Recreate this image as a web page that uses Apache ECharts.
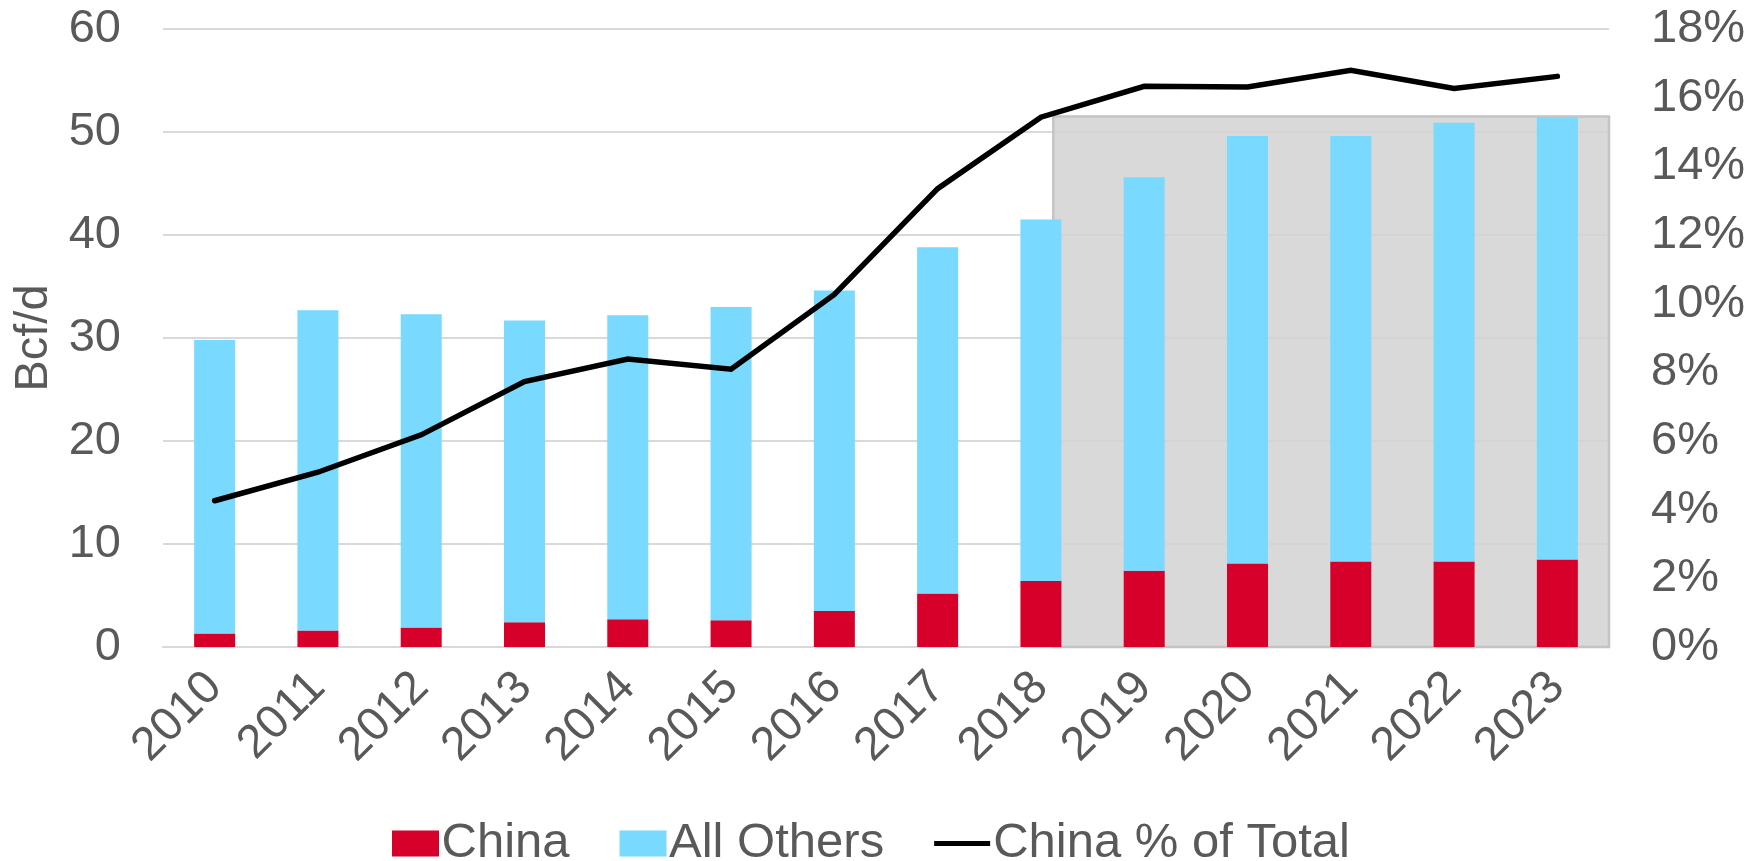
<!DOCTYPE html>
<html>
<head>
<meta charset="utf-8">
<script src="https://cdn.jsdelivr.net/npm/echarts@6/dist/echarts.min.js"></script>
<style>
  html, body { margin: 0; padding: 0; background: #ffffff; }
  #chart { width: 1764px; height: 861px; }
</style>
</head>
<body>
<div id="chart"></div>
<script>
// ---- data ----
const years = ['2010','2011','2012','2013','2014','2015','2016','2017','2018','2019','2020','2021','2022','2023'];
const china = [1.3, 1.6, 1.9, 2.4, 2.7, 2.6, 3.5, 5.2, 6.4, 7.4, 8.1, 8.3, 8.3, 8.5];
const allOthers = [28.5, 31.1, 30.4, 29.3, 29.5, 30.4, 31.1, 33.6, 35.1, 38.2, 41.5, 41.3, 42.6, 42.9];
const chinaShare = [4.26, 5.09, 6.18, 7.73, 8.39, 8.09, 10.27, 13.35, 15.43, 16.33, 16.31, 16.8, 16.27, 16.62];
const leftTicks = [0, 10, 20, 30, 40, 50, 60];
const rightTicks = [0, 2, 4, 6, 8, 10, 12, 14, 16, 18];
// shaded forecast block, in data units (category index space / Bcf/d)
const shadeFrom = 8.62, shadeTo = 14, shadeTop = 51.5;

const FONT = '"Liberation Sans", Arial, sans-serif';
const GREY = '#595959';
const RECT_ICON = 'path://M0,0 L47,0 L47,26 L0,26 Z';
const LINE_ICON = 'path://M0,0 L56,0 L56,5 L0,5 Z';

const chart = echarts.init(document.getElementById('chart'), null, { renderer: 'canvas' });
chart.setOption({
  animation: false,
  backgroundColor: '#ffffff',
  textStyle: { fontFamily: FONT },
  grid: { left: 163, right: 155, top: 29, bottom: 214, containLabel: false },
  legend: {
    data: [
      { name: 'China', icon: RECT_ICON, textStyle: { padding: [0, 0, 0, -7] } },
      { name: 'All Others', icon: RECT_ICON, textStyle: { padding: [0, 0, 0, -7] } },
      { name: 'China % of Total', icon: LINE_ICON, textStyle: { padding: [0, 0, 0, -2] } }
    ],
    left: 387,
    top: 814,
    itemWidth: 56,
    itemHeight: 26,
    itemGap: 50,
    textStyle: { fontSize: 49, color: GREY, fontFamily: FONT }
  },
  xAxis: [
    {
      type: 'category',
      data: years,
      axisLine: { show: true, lineStyle: { color: '#d9d9d9', width: 2 } },
      axisTick: { show: false },
      axisLabel: { rotate: 45, fontSize: 47, color: GREY, fontFamily: FONT, margin: 33, interval: 0 }
    },
    {
      type: 'value', min: 0, max: years.length, show: false
    }
  ],
  yAxis: [
    {
      type: 'value', min: leftTicks[0], max: leftTicks[leftTicks.length - 1], interval: 10,
      name: 'Bcf/d', nameLocation: 'middle', nameGap: 104,
      nameTextStyle: { fontSize: 47, color: GREY, fontFamily: FONT },
      axisLine: { show: false }, axisTick: { show: false },
      axisLabel: { fontSize: 47, color: GREY, fontFamily: FONT, margin: 42 },
      splitLine: { show: true, lineStyle: { color: '#d9d9d9', width: 2 } }
    },
    {
      type: 'value', min: rightTicks[0], max: rightTicks[rightTicks.length - 1], interval: 2,
      position: 'right',
      axisLine: { show: false }, axisTick: { show: false },
      axisLabel: { fontSize: 47, color: GREY, fontFamily: FONT, margin: 42, formatter: v => v + '%' },
      splitLine: { show: false }
    }
  ],
  series: [
    {
      name: 'shade', type: 'line', xAxisIndex: 1, yAxisIndex: 0, data: [], z: 1,
      silent: true, symbol: 'none',
      markArea: {
        silent: true,
        itemStyle: { color: 'rgba(210,210,210,0.85)', borderColor: '#c4c4c4', borderWidth: 2.5 },
        data: [[{ xAxis: shadeFrom, yAxis: 0 }, { xAxis: shadeTo, yAxis: shadeTop }]]
      }
    },
    {
      name: 'China', type: 'bar', stack: 'total', barWidth: 41, z: 3,
      itemStyle: { color: '#d6002b' },
      data: china
    },
    {
      name: 'All Others', type: 'bar', stack: 'total', barWidth: 41, z: 3,
      itemStyle: { color: '#79d9fe' },
      data: allOthers
    },
    {
      name: 'China % of Total', type: 'line', yAxisIndex: 1, z: 5,
      symbol: 'none', smooth: false,
      lineStyle: { color: '#000000', width: 5.5, cap: 'round', join: 'miter' },
      itemStyle: { color: '#000000' },
      data: chinaShare
    }
  ]
});
</script>
</body>
</html>
